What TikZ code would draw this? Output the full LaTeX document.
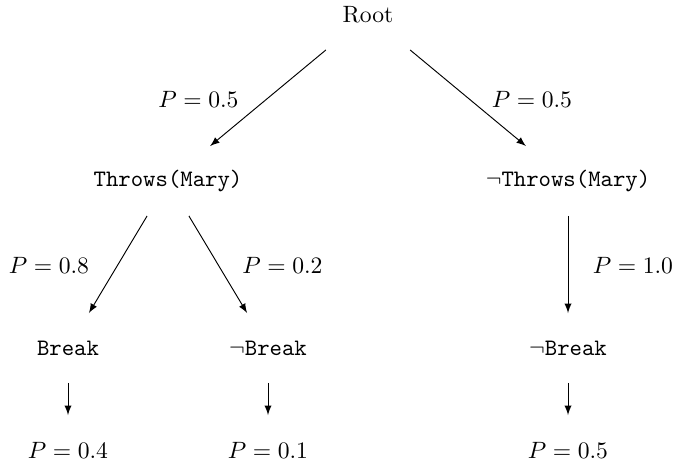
\documentclass[tikz,border=0pt]{standalone}
\begin{document}
\begin{tikzpicture}[x=0.4237pt,y=-0.4237pt,
  state/.style={minimum height=29.2pt, minimum width=40pt, inner sep=0pt},
  lbl/.style={anchor=base, inner sep=0pt},
  edge/.style={-latex, line width=0.4pt}]
\useasboundingbox (0,0) rectangle (675,464);
% nodes
\node[state] (root) at (368,15) {Root};
\node[state] (t)  at (168,181) {\texttt{Throws(Mary)}};
\node[state] (nt) at (568,181) {$\neg$\texttt{Throws(Mary)}};
\node[state] (b1) at (68,348)  {\texttt{Break}};
\node[state] (b2) at (268,348) {$\neg$\texttt{Break}};
\node[state] (b3) at (568,348) {$\neg$\texttt{Break}};
\node[state] (p1) at (68,450)  {$P=0.4$};
\node[state] (p2) at (268,450) {$P=0.1$};
\node[state] (p3) at (568,450) {$P=0.5$};
% connectors
\draw[edge] (root) -- (t);
\draw[edge] (root) -- (nt);
\draw[edge] (t) -- (b1);
\draw[edge] (t) -- (b2);
\draw[edge] (nt) -- (b3);
\draw[edge] (b1) -- (p1);
\draw[edge] (b2) -- (p2);
\draw[edge] (b3) -- (p3);
% edge labels
\node[lbl] (l1) at (198.5,107) {$P=0.5$};
\node[lbl] (l2) at (532,107)   {$P=0.5$};
\node[lbl] (l3) at (49,273)    {$P=0.8$};
\node[lbl] (l4) at (282.5,273) {$P=0.2$};
\node[lbl] (l5) at (633,273)   {$P=1.0$};
\end{tikzpicture}
\end{document}
